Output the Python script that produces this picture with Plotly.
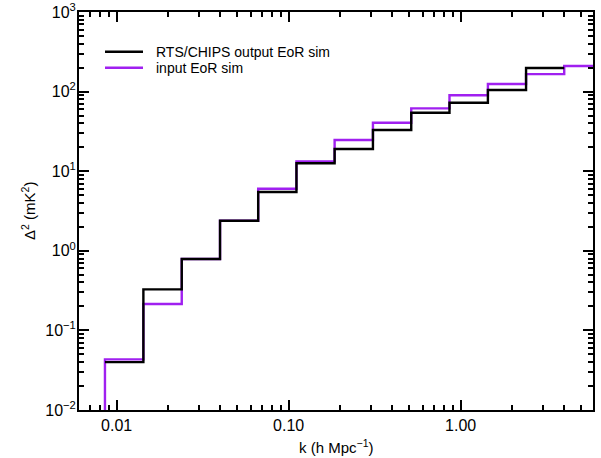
import numpy as np
import plotly.graph_objects as go

# Bin edges in k (h Mpc^-1)
k_edges = [0.00855, 0.0143, 0.0239, 0.0399, 0.0665, 0.111, 0.185,
           0.309, 0.516, 0.861, 1.44, 2.40, 4.00, 6.70]
# Delta^2 (mK^2) per bin
input_eor = [0.0433, 0.215, 0.789, 2.39, 6.03, 13.3, 24.7, 40.6,
             61.6, 89.8, 124.5, 166.0, 210.0]
output_eor = [0.040, 0.328, 0.789, 2.39, 5.48, 12.6, 19.0, 33.0,
              54.3, 72.5, 104.7, 197.9]

x_ticks = [0.01, 0.1, 1.0]
x_ticktext = ["0.01", "0.10", "1.00"]
y_ticks = [0.01, 0.1, 1, 10, 100, 1000]
y_ticktext = ["10<sup>−2</sup>", "10<sup>−1</sup>", "10<sup>0</sup>",
              "10<sup>1</sup>", "10<sup>2</sup>", "10<sup>3</sup>"]

series_names = ["RTS/CHIPS output EoR sim", "input EoR sim"]
colors = ["#000000", "#A020F0"]

FONT = "Liberation Sans, Arial, Helvetica, sans-serif"


def step_xy(edges, vals, drop_start=False):
    n = len(vals)
    xs = list(edges[:n + 1])
    ys = list(vals) + [vals[-1]]
    if drop_start:
        xs = [edges[0]] + xs
        ys = [1e-4] + ys
    return xs, ys


fig = go.Figure()

xi, yi = step_xy(k_edges, input_eor, drop_start=True)
fig.add_trace(go.Scatter(x=xi, y=yi, mode="lines", line_shape="hv",
                         line=dict(color=colors[1], width=2.4),
                         showlegend=False, hoverinfo="skip"))
xo, yo = step_xy(k_edges, output_eor)
fig.add_trace(go.Scatter(x=xo, y=yo, mode="lines", line_shape="hv",
                         line=dict(color=colors[0], width=2.4),
                         showlegend=False, hoverinfo="skip"))
# invisible trace to activate mirrored axes
fig.add_trace(go.Scatter(x=[0.1], y=[1], xaxis="x2", yaxis="y2", mode="markers",
                         marker=dict(opacity=0), showlegend=False, hoverinfo="skip"))

x_range = [np.log10(0.00604), np.log10(5.88)]
y_range = [-2, 3]

minor_x = [m * 10.0 ** d for d in range(-3, 1) for m in range(2, 10)]
minor_x = [v for v in minor_x if 0.006 < v < 5.9]
minor_y = [m * 10.0 ** d for d in range(-2, 3) for m in range(2, 10)]

tickstyle = dict(ticks="inside", ticklen=10, tickwidth=1.5, tickcolor="black",
                 showgrid=False, zeroline=False, type="log", automargin=False,
                 showline=True, linewidth=2, linecolor="black")

xmin = dict(tickmode="array", tickvals=minor_x, ticks="inside",
            ticklen=5, tickwidth=1.5, tickcolor="black", showgrid=False)
ymin = dict(tickmode="array", tickvals=minor_y, ticks="inside",
            ticklen=5, tickwidth=1.5, tickcolor="black", showgrid=False)

fig.update_layout(
    xaxis=dict(range=x_range, tickmode="array", tickvals=x_ticks, ticktext=x_ticktext,
               minor=xmin, tickfont=dict(family=FONT, size=16, color="black"),
               **tickstyle),
    yaxis=dict(range=y_range, tickmode="array", tickvals=y_ticks, ticktext=y_ticktext,
               minor=ymin, tickfont=dict(family=FONT, size=16, color="black"),
               ticklabelstandoff=-2,
               **tickstyle),
    xaxis2=dict(range=x_range, overlaying="x", side="top", anchor="y",
                tickmode="array", tickvals=x_ticks, showticklabels=False,
                minor=xmin, **tickstyle),
    yaxis2=dict(range=y_range, overlaying="y", side="right", anchor="x",
                tickmode="array", tickvals=y_ticks, showticklabels=False,
                minor=ymin, **tickstyle),
)

# axis titles
fig.add_annotation(xref="paper", yref="paper", x=0.5, y=-0.0905,
                   text="k (h Mpc<sup>−1</sup>)", showarrow=False,
                   xanchor="center", yanchor="middle",
                   font=dict(family=FONT, size=15, color="black"))
fig.add_annotation(xref="paper", yref="paper", x=-0.0992, y=0.5,
                   text="Δ<sup>2</sup> (mK<sup>2</sup>)", showarrow=False,
                   textangle=-90, xanchor="center", yanchor="middle",
                   font=dict(family=FONT, size=15, color="black"))

# manual legend
leg_y = [0.900, 0.860]
for i, name in enumerate(series_names):
    fig.add_shape(type="line", xref="paper", yref="paper",
                  x0=0.0506, x1=0.1245, y0=leg_y[i], y1=leg_y[i],
                  line=dict(color=colors[i], width=2.5))
    fig.add_annotation(xref="paper", yref="paper", x=0.1459, y=leg_y[i],
                       text=name, showarrow=False, xanchor="left", yanchor="middle",
                       font=dict(family=FONT, size=14, color="black"))

fig.update_layout(width=601, height=458,
                  margin=dict(l=79, r=8, t=12, b=48),
                  paper_bgcolor="white", plot_bgcolor="white",
                  font=dict(family=FONT, color="black"))

fig.write_html("out.html")
